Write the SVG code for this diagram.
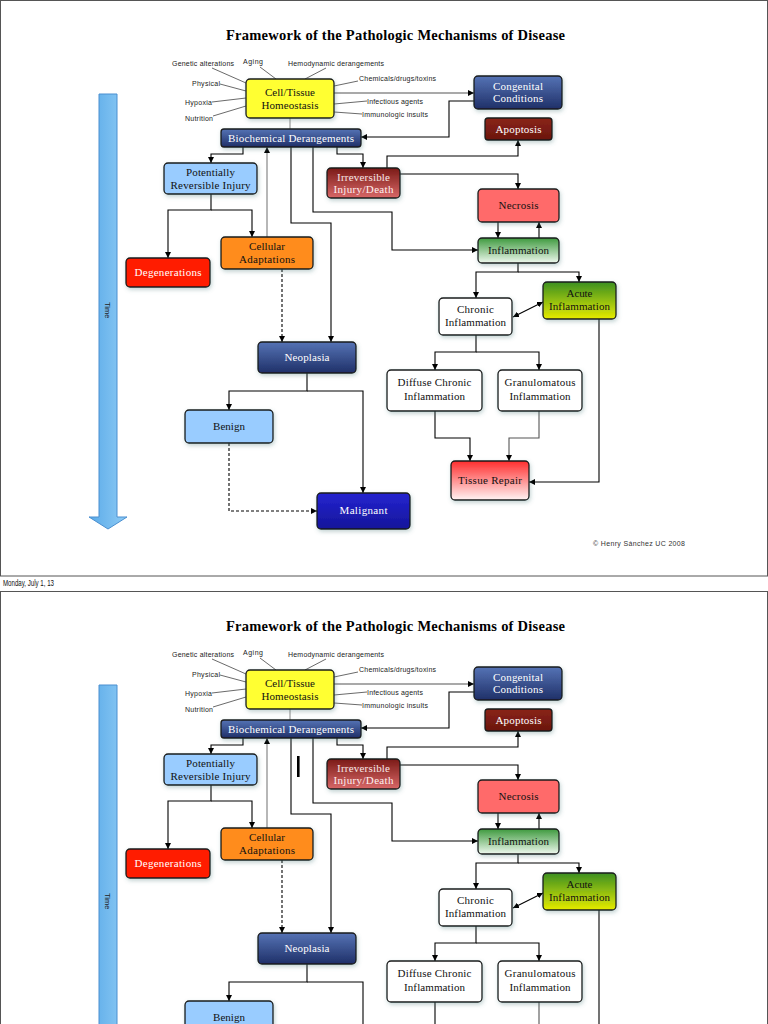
<svg xmlns="http://www.w3.org/2000/svg" xmlns:xlink="http://www.w3.org/1999/xlink" width="768" height="1024" viewBox="0 0 768 1024">
<defs>
<style>
.nd{stroke:#1a1a1a;stroke-width:1.3;filter:url(#sh)}
.t{font-family:"Liberation Serif","DejaVu Serif",serif;font-size:11px;text-anchor:middle}
.w{fill:#ffffff}
.k{fill:#111111}
.lb{font-family:"Liberation Sans",Arial,sans-serif;font-size:7px;fill:#222}
.gl{stroke:#444;stroke-width:0.8;fill:none}
.c{stroke:#000;stroke-width:1.1;fill:none}
.a{marker-end:url(#arr)}
.dash{stroke-dasharray:3,2}
</style>
<filter id="sh" x="-20%" y="-20%" width="140%" height="160%">
<feDropShadow dx="1" dy="2" stdDeviation="2" flood-color="#4d8080" flood-opacity="0.35"/>
</filter>
<marker id="arr" markerWidth="6" markerHeight="6" refX="6" refY="3" orient="auto-start-reverse" markerUnits="userSpaceOnUse">
<path d="M0,0 L6,3 L0,6 z" fill="#000"/>
</marker>
<linearGradient id="gBlue" x1="0" y1="0" x2="0" y2="1"><stop offset="0" stop-color="#5573b5"/><stop offset="1" stop-color="#1f3068"/></linearGradient>
<linearGradient id="gApop" x1="0" y1="0" x2="0" y2="1"><stop offset="0" stop-color="#8a2418"/><stop offset="1" stop-color="#6a160e"/></linearGradient>
<linearGradient id="gIrr" x1="0" y1="0" x2="0" y2="1"><stop offset="0" stop-color="#7a1a16"/><stop offset="1" stop-color="#d86868"/></linearGradient>
<linearGradient id="gInf" x1="0" y1="0" x2="0" y2="1"><stop offset="0" stop-color="#3f9a3f"/><stop offset="1" stop-color="#eef8ee"/></linearGradient>
<linearGradient id="gAc" x1="0" y1="0" x2="0" y2="1"><stop offset="0" stop-color="#3b8f22"/><stop offset="1" stop-color="#e6ec00"/></linearGradient>
<linearGradient id="gTR" x1="0" y1="0" x2="0" y2="1"><stop offset="0" stop-color="#ff2e2e"/><stop offset="1" stop-color="#fff4f4"/></linearGradient>
<linearGradient id="gMal" x1="0" y1="0" x2="0" y2="1"><stop offset="0" stop-color="#2424d0"/><stop offset="1" stop-color="#15159a"/></linearGradient>
<linearGradient id="gTime" x1="0" y1="0" x2="1" y2="0"><stop offset="0" stop-color="#5aaae8"/><stop offset="1" stop-color="#8ecbf5"/></linearGradient>
</defs>
<rect x="0" y="0" width="768" height="1024" fill="#ffffff"/>
<g id="slide">
<rect x="0.5" y="0.5" width="767" height="575.5" fill="#ffffff" stroke="#555" stroke-width="1"/>
<text x="395.5" y="40" font-family="'Liberation Serif','DejaVu Serif',serif" font-weight="bold" font-size="14.5" text-anchor="middle" textLength="339" fill="#000">Framework of the Pathologic Mechanisms of Disease</text>
<g id="time-arrow">
<path d="M99,94 H117 V517 H127 L108,529 L89,517 H99 Z" fill="url(#gTime)" stroke="#4a8fd0" stroke-width="1"/>
<text transform="translate(105,302) rotate(90)" font-family="'Liberation Sans',Arial,sans-serif" font-size="7.5" fill="#222">Time</text>
</g>
<g id="factor-labels">
<text class="lb" x="172" y="66" textLength="62">Genetic alterations</text>
<text class="lb" x="243" y="64" textLength="20">Aging</text>
<text class="lb" x="288" y="66" textLength="96">Hemodynamic derangements</text>
<text class="lb" x="359" y="81" textLength="77">Chemicals/drugs/toxins</text>
<text class="lb" x="192" y="86" textLength="28">Physical</text>
<text class="lb" x="185" y="105" textLength="27">Hypoxia</text>
<text class="lb" x="185" y="121" textLength="28">Nutrition</text>
<text class="lb" x="367" y="104" textLength="56">Infectious agents</text>
<text class="lb" x="362" y="117" textLength="66">Immunologic insults</text>
<path class="gl" d="M212,68 L246,83 M260,67 L276,79 M305,79 L326,68 M220,84 L246,91 M212,102 L246,98 M213,116 L246,106 M334,86 L358,81 M334,104 L367,101 M334,112 L362,114"/>
</g>
<g id="connectors">
<path d="M334,93 H474" stroke="#555" stroke-width="1.1" fill="none" marker-end="url(#arr)"/>
<path d="M290,118 V129" stroke="#888" stroke-width="1" fill="none"/>
<path class="c a" d="M474,101 H449 V137 H361"/>
<path class="c a" d="M243,147 V154 H211 V163"/>
<path d="M267,237 V147" stroke="#999" stroke-width="1.4" fill="none" marker-end="url(#arr)"/>
<path class="c a" d="M291,147 V223 H331 V342"/>
<path class="c a" d="M313,147 V212 H392 V250 H478"/>
<path class="c a" d="M337,147 V154 H363 V168"/>
<path class="c a" d="M387,168 V156 H518 V140"/>
<path class="c a" d="M400,174 H518 V189"/>
<path class="c a" d="M498,222 V238"/>
<path class="c a" d="M539,238 V222"/>
<path class="c a" d="M518,263 V272 H476 V298"/>
<path class="c a" d="M518,272 H579 V282"/>
<path class="c a" d="M513,317 L543,302" marker-start="url(#arr)"/>
<path class="c a" d="M476,335 V352 H435 V370"/>
<path class="c a" d="M476,352 H539 V370"/>
<path class="c a" d="M435,411 V438 H470 V461"/>
<path d="M539,411 V438 H509 V461" stroke="#555" stroke-width="1.1" fill="none" marker-end="url(#arr)"/>
<path class="c a" d="M599,319 V482 H529"/>
<path class="c a" d="M211,194 V210 H168 V258"/>
<path class="c a" d="M211,210 H252 V237"/>
<path class="c a dash" d="M282,269 V342"/>
<path class="c a" d="M307,373 V391 H229 V410"/>
<path class="c a" d="M307,391 H363 V493"/>
<path class="c a dash" d="M229,443 V511 H317"/>
</g>
<g id="cell-tissue"><rect class="nd" x="246" y="79" width="88" height="39" rx="4" fill="#ffff33"/><text class="t k" x="290" y="96" textLength="50">Cell/Tissue</text><text class="t k" x="290" y="109" textLength="57">Homeostasis</text></g>
<g id="biochemical"><rect class="nd" x="221" y="129" width="140" height="18" rx="3" fill="url(#gBlue)"/><text class="t w" x="291" y="141.5" textLength="126">Biochemical Derangements</text></g>
<g id="congenital"><rect class="nd" x="474" y="76" width="88" height="33" rx="4" fill="url(#gBlue)"/><text class="t w" x="518" y="89.5" textLength="50">Congenital</text><text class="t w" x="518" y="102" textLength="50">Conditions</text></g>
<g id="apoptosis"><rect class="nd" x="485" y="118" width="67" height="22" rx="3" fill="url(#gApop)"/><text class="t w" x="518.5" y="132.5" textLength="46">Apoptosis</text></g>
<g id="irreversible"><rect class="nd" x="327" y="168" width="73" height="30" rx="4" fill="url(#gIrr)"/><text class="t" x="363.5" y="180.5" textLength="53" fill="#f8e8e8">Irreversible</text><text class="t" x="363.5" y="193" textLength="60" fill="#fff0f0">Injury/Death</text></g>
<g id="necrosis"><rect class="nd" x="478" y="189" width="81" height="33" rx="4" fill="#ff6b6b"/><text class="t k" x="518.5" y="209" textLength="40">Necrosis</text></g>
<g id="inflammation"><rect class="nd" x="478" y="238" width="81" height="25" rx="4" fill="url(#gInf)"/><text class="t k" x="518.5" y="254" textLength="61">Inflammation</text></g>
<g id="potentially-reversible"><rect class="nd" x="164" y="163" width="93" height="31" rx="4" fill="#99ccff"/><text class="t k" x="210.5" y="175.5" textLength="49">Potentially</text><text class="t k" x="210.5" y="188.5" textLength="80">Reversible Injury</text></g>
<g id="degenerations"><rect class="nd" x="126" y="258" width="84" height="29" rx="4" fill="#ff1a00"/><text class="t w" x="168" y="276" textLength="67">Degenerations</text></g>
<g id="cellular-adaptations"><rect class="nd" x="221" y="237" width="92" height="32" rx="4" fill="#ff8c1a"/><text class="t k" x="267" y="250" textLength="36">Cellular</text><text class="t k" x="267" y="263" textLength="56">Adaptations</text></g>
<g id="neoplasia"><rect class="nd" x="258" y="342" width="98" height="31" rx="4" fill="url(#gBlue)"/><text class="t w" x="307" y="361" textLength="45">Neoplasia</text></g>
<g id="benign"><rect class="nd" x="185" y="410" width="88" height="33" rx="4" fill="#99ccff"/><text class="t k" x="229" y="430" textLength="32">Benign</text></g>
<g id="malignant"><rect class="nd" x="317" y="493" width="93" height="36" rx="4" fill="url(#gMal)"/><text class="t w" x="363.5" y="514" textLength="48">Malignant</text></g>
<g id="chronic"><rect class="nd" x="439" y="298" width="73" height="37" rx="4" fill="#ffffff"/><text class="t k" x="475.5" y="313" textLength="37">Chronic</text><text class="t k" x="475.5" y="326" textLength="61">Inflammation</text></g>
<g id="acute"><rect class="nd" x="543" y="282" width="73" height="37" rx="4" fill="url(#gAc)"/><text class="t k" x="579.5" y="297" textLength="26">Acute</text><text class="t k" x="579.5" y="310" textLength="61">Inflammation</text></g>
<g id="diffuse"><rect class="nd" x="387" y="370" width="95" height="41" rx="4" fill="#ffffff"/><text class="t k" x="434.5" y="386" textLength="74">Diffuse Chronic</text><text class="t k" x="434.5" y="400" textLength="61">Inflammation</text></g>
<g id="granulomatous"><rect class="nd" x="498" y="370" width="84" height="41" rx="4" fill="#ffffff"/><text class="t k" x="540" y="386" textLength="71">Granulomatous</text><text class="t k" x="540" y="400" textLength="61">Inflammation</text></g>
<g id="tissue-repair"><rect class="nd" x="451" y="461" width="78" height="39" rx="4" fill="url(#gTR)"/><text class="t k" x="490" y="484" textLength="64">Tissue Repair</text></g>
<text x="593" y="545.5" font-family="'Liberation Sans',Arial,sans-serif" font-size="7" fill="#333" textLength="92">© Henry Sánchez UC 2008</text>
</g>
<text x="3" y="585.5" font-family="'Liberation Sans',Arial,sans-serif" font-size="9" fill="#111" textLength="51" lengthAdjust="spacingAndGlyphs">Monday, July 1, 13</text>
<use xlink:href="#slide" href="#slide" x="0" y="591"/>
<rect x="297" y="756" width="2.6" height="21" fill="#000"/>
</svg>
